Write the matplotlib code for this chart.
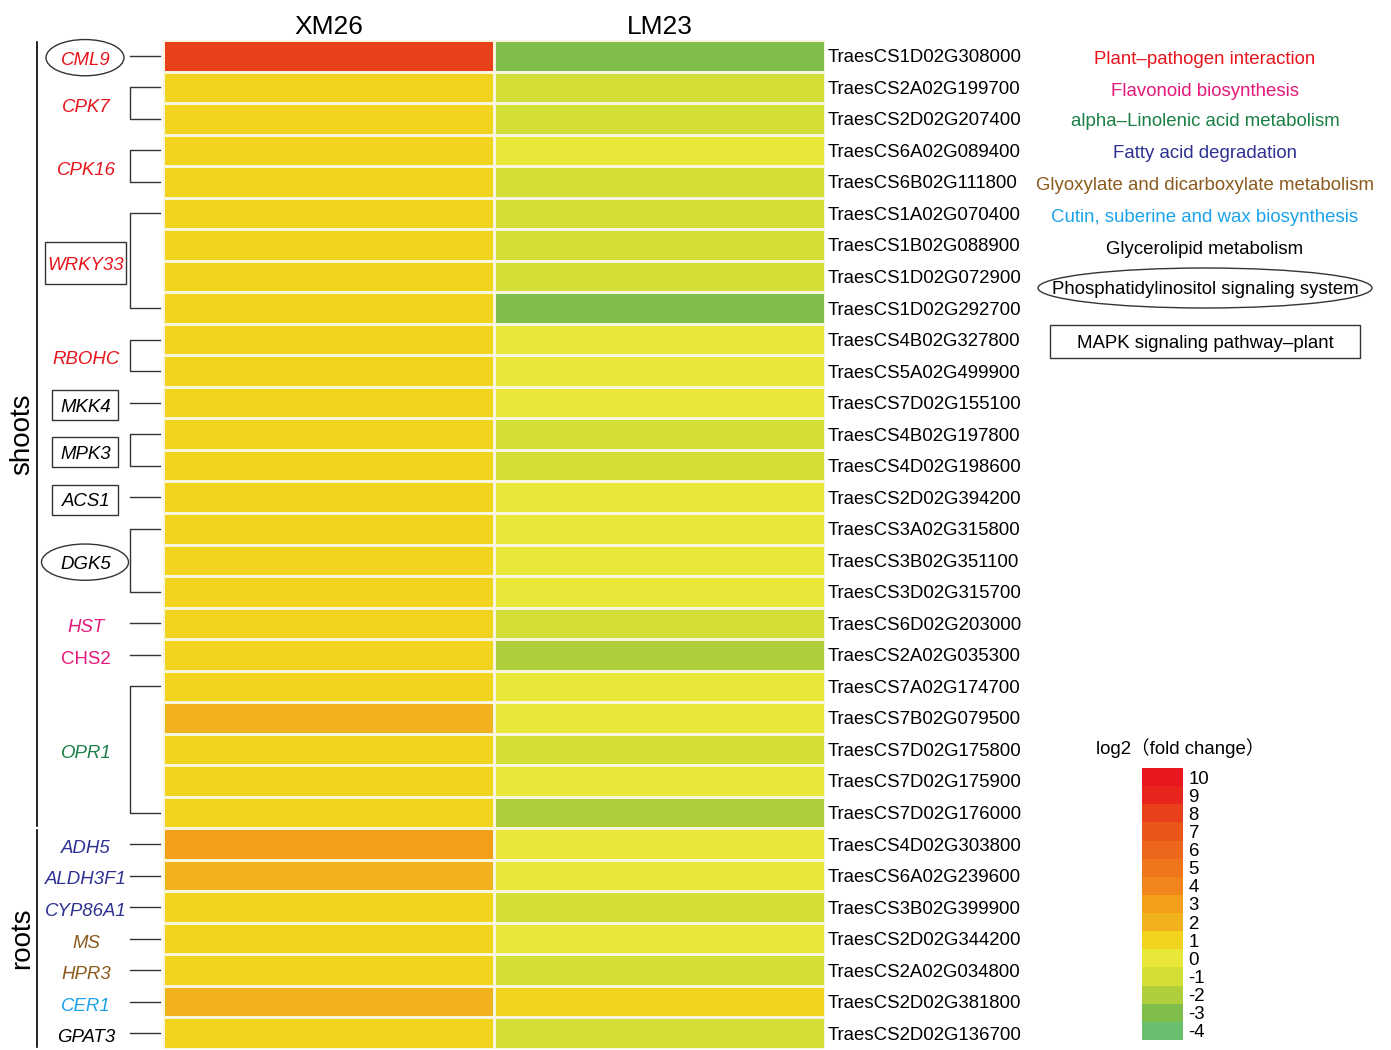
import numpy as np
import matplotlib
matplotlib.use("Agg")
import matplotlib.pyplot as plt
from matplotlib.colors import ListedColormap, BoundaryNorm
from matplotlib.patches import Rectangle, Ellipse
from matplotlib.transforms import blended_transform_factory
import matplotlib as mpl

plt.rcParams['font.family'] = ['Liberation Sans', 'Noto Sans CJK SC', 'DejaVu Sans']

# ---- data ----
samples = ['XM26', 'LM23']
gene_ids = ['TraesCS1D02G308000', 'TraesCS2A02G199700', 'TraesCS2D02G207400',
            'TraesCS6A02G089400', 'TraesCS6B02G111800', 'TraesCS1A02G070400',
            'TraesCS1B02G088900', 'TraesCS1D02G072900', 'TraesCS1D02G292700',
            'TraesCS4B02G327800', 'TraesCS5A02G499900', 'TraesCS7D02G155100',
            'TraesCS4B02G197800', 'TraesCS4D02G198600', 'TraesCS2D02G394200',
            'TraesCS3A02G315800', 'TraesCS3B02G351100', 'TraesCS3D02G315700',
            'TraesCS6D02G203000', 'TraesCS2A02G035300', 'TraesCS7A02G174700',
            'TraesCS7B02G079500', 'TraesCS7D02G175800', 'TraesCS7D02G175900',
            'TraesCS7D02G176000', 'TraesCS4D02G303800', 'TraesCS6A02G239600',
            'TraesCS3B02G399900', 'TraesCS2D02G344200', 'TraesCS2A02G034800',
            'TraesCS2D02G381800', 'TraesCS2D02G136700']
xm26 = [8, 1, 1, 1, 1, 1, 1, 1, 1, 1, 1, 1, 1, 1, 1, 1, 1, 1, 1, 1,
        1, 2, 1, 1, 1, 3, 2, 1, 1, 1, 2, 1]
lm23 = [-3, -1, -1, 0, -1, -1, -1, -1, -3, 0, 0, 0, -1, -1, 0, 0, 0, 0, -1, -2,
        0, 0, -1, 0, -2, 0, 0, -1, 0, -1, 1, -1]

gene_names = ['CML9', 'CPK7', 'CPK16', 'WRKY33', 'RBOHC', 'MKK4', 'MPK3', 'ACS1',
              'DGK5', 'HST', 'CHS2', 'OPR1', 'ADH5', 'ALDH3F1', 'CYP86A1', 'MS',
              'HPR3', 'CER1', 'GPAT3']
gene_counts = [1, 2, 2, 4, 2, 1, 2, 1, 3, 1, 1, 5, 1, 1, 1, 1, 1, 1, 1]
gene_colors = ['#e8141c'] * 5 + ['black'] * 4 + ['#e6197a', '#e6197a', '#1a7f45'] + \
              ['#2e3192'] * 3 + ['#8b5a1c'] * 2 + ['#1aa3e8', 'black']
gene_italic = [True] * 10 + [False] + [True] * 8
gene_frame = {'CML9': 'ellipse', 'DGK5': 'ellipse', 'WRKY33': 'box',
              'MKK4': 'box', 'MPK3': 'box', 'ACS1': 'box'}
tissues = ['shoots', 'roots']
tissue_rows = [25, 7]

pathways = ['Plant\u2013pathogen interaction', 'Flavonoid biosynthesis',
            'alpha\u2013Linolenic acid metabolism', 'Fatty acid degradation',
            'Glyoxylate and dicarboxylate metabolism',
            'Cutin, suberine and wax biosynthesis', 'Glycerolipid metabolism',
            'Phosphatidylinositol signaling system', 'MAPK signaling pathway\u2013plant']
pathway_colors = ['#e8141c', '#e6197a', '#1a7f45', '#2e3192', '#8b5a1c',
                  '#1aa3e8', 'black', 'black', 'black']

levels = list(range(-4, 11))
level_colors = ['#6abf6e', '#80be4c', '#aecf3a', '#d3df37', '#e9e838', '#f2d41f',
                '#f2b21d', '#f49e1a', '#f0851c', '#ee771c', '#ec661b', '#ea561a',
                '#e8401a', '#e8251c', '#e8161e']

# ---- figure ----
W, H = 1391, 1050
fig = plt.figure(figsize=(W / 100, H / 100), dpi=100)
fs = 13.4

cmap = ListedColormap(level_colors)
norm = BoundaryNorm(np.arange(-4.5, 11.5, 1), cmap.N)

hm_l, hm_r, hm_t, hm_b = 163, 825, 40, 1049
ax = fig.add_axes([hm_l / W, 1 - hm_b / H, (hm_r - hm_l) / W, (hm_b - hm_t) / H])
data = np.array([xm26, lm23]).T
nrow = len(gene_ids)
ax.pcolormesh(np.arange(3), np.arange(nrow + 1), data, cmap=cmap, norm=norm,
              edgecolors='#f7f5dc', linewidth=0.8)
ax.set_xlim(0, 2)
ax.set_ylim(nrow, 0)
ax.set_xticks([0.5, 1.5])
ax.set_xticklabels(samples, fontsize=19)
ax.xaxis.tick_top()
ax.set_yticks(np.arange(nrow) + 0.5)
ax.set_yticklabels(gene_ids, fontsize=fs)
ax.yaxis.tick_right()
ax.tick_params(axis='y', length=0, pad=2)
ax.tick_params(axis='x', length=0, pad=1)
for s in ax.spines.values():
    s.set_visible(False)

# overlay in pixel coordinates
ov = fig.add_axes([0, 0, 1, 1])
ov.set_xlim(0, W)
ov.set_ylim(H, 0)
ov.axis('off')
tr = blended_transform_factory(ov.transData, ax.transData)

lc = '#333333'
start = 0
for name, n, col, it in zip(gene_names, gene_counts, gene_colors, gene_italic):
    y0 = start + 0.5
    y1 = start + n - 0.5
    ym = (y0 + y1) / 2
    if n == 1:
        ov.plot([130, 160], [y0, y0], color=lc, lw=1, transform=tr)
    else:
        ov.plot([160, 130, 130, 160], [y0, y0, y1, y1], color=lc, lw=1, transform=tr)
    ov.text(86, ym + 0.14, name, color=col, fontsize=fs, style='italic' if it else 'normal',
            ha='center', va='center', transform=tr)
    frame = gene_frame.get(name)
    if frame == 'ellipse':
        w = 78 if name == 'CML9' else 87
        ov.add_patch(Ellipse((85, ym + 0.06), w, 1.15, fill=False, ec=lc, lw=1, transform=tr))
    elif frame == 'box':
        w = 81 if name == 'WRKY33' else 66
        h = 1.33 if name == 'WRKY33' else 0.95
        ov.add_patch(Rectangle((85 - w / 2, ym + 0.08 - h / 2), w, h, fill=False, ec=lc,
                               lw=1, transform=tr))
    start += n

# tissue brackets
start = 0
for t, n in zip(tissues, tissue_rows):
    ov.plot([37, 37], [start + 0.07, start + n - 0.07], color='black', lw=1.2, transform=tr)
    ov.text(22, start + n / 2, t, rotation=90, fontsize=20, ha='center', va='center',
            transform=tr)
    start += n

# pathway legend
py = [58, 90, 120, 151, 183, 216, 247, 288, 342]
for txt, c, y in zip(pathways, pathway_colors, py):
    ov.text(1205, y + 2, txt, color=c, fontsize=fs, ha='center', va='center')
ov.add_patch(Ellipse((1205, 288), 334, 40, fill=False, ec=lc, lw=1))
ov.add_patch(Rectangle((1050, 325), 310, 33, fill=False, ec=lc, lw=1))

# colorbar
cax = fig.add_axes([1142 / W, 1 - 1040 / H, 41 / W, 272 / H])
cb = mpl.colorbar.ColorbarBase(cax, cmap=cmap, norm=norm, ticks=levels)
cb.outline.set_visible(False)
cb.minorticks_off()
cb.ax.tick_params(which='both', length=0, pad=4, labelsize=fs)
cb.set_ticklabels([str(v) for v in levels])
ov.text(1180, 748, 'log2\uff08fold change\uff09', fontsize=fs, ha='center', va='center')

fig.savefig('out.png', dpi=100)
